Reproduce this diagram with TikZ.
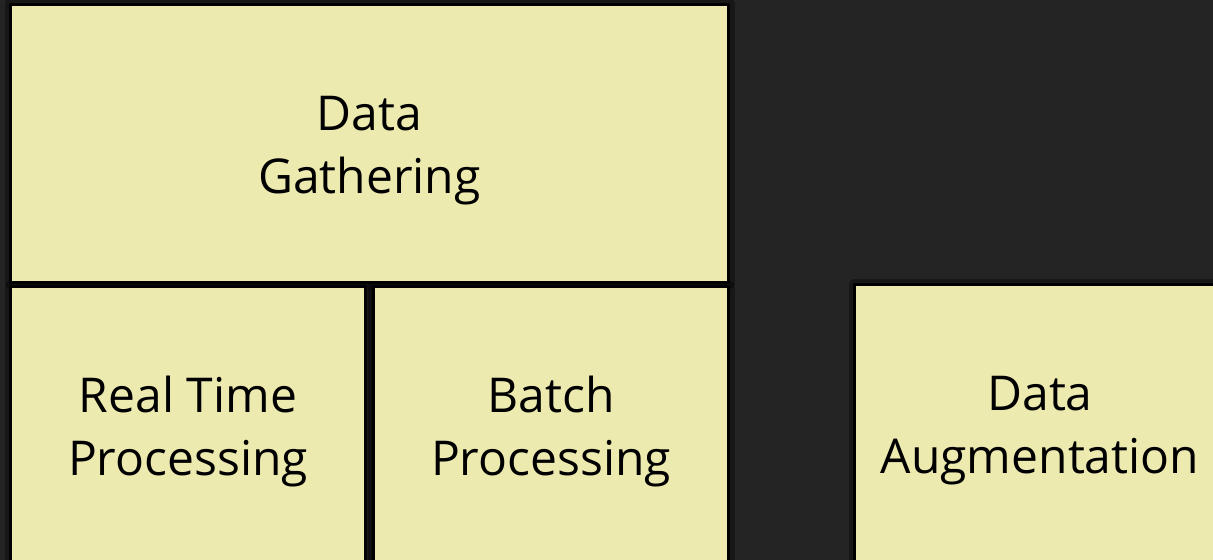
\documentclass[tikz,border=0pt]{standalone}
\usepackage{fontspec}
\setmainfont{Open Sans}
\definecolor{bgdark}{HTML}{242424}
\definecolor{notefill}{HTML}{EDEAB0}
\tikzset{
  notebox/.style={rectangle, draw=black, line width=2.25pt, fill=notefill, align=center,
    inner sep=0pt, font=\fontsize{36}{47}\selectfont, text height=75pt, text depth=0pt,
    preaction={draw=black, opacity=0.35, line width=9pt}},
}
\begin{document}
\begin{tikzpicture}[x=0.75pt, y=-0.75pt, line join=round]
  \def \W{1213}\def \H{560}
  \fill[bgdark] (0,0) rectangle (\W,\H);
  \useasboundingbox (0,0) rectangle (\W,\H);
  \begin{scope}
    \clip (0,0) rectangle (\W,\H);
    \node[notebox, minimum width=538.5pt, minimum height=208.5pt] (gather) at (369.5,143.5) {Data\\Gathering};
    \node[notebox, minimum width=266.25pt, minimum height=208.5pt] (realtime) at (188,425.5) {Real Time\\Processing};
    \node[notebox, minimum width=266.25pt, minimum height=208.5pt] (batch) at (551,425.5) {Batch\\Processing};
    \node[notebox, minimum width=278.25pt, minimum height=208.5pt] (augment) at (1040,423.5) {Data\\Augmentation};
  \end{scope}
\end{tikzpicture}
\end{document}
